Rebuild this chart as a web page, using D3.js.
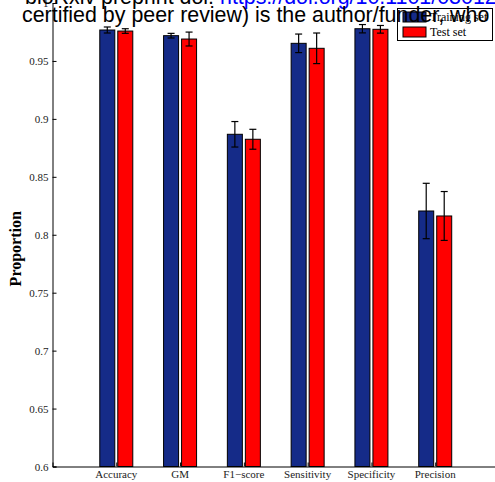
<!DOCTYPE html>
<html>
<head>
<meta charset="utf-8">
<script src="https://cdn.jsdelivr.net/npm/d3@7"></script>
<style>
  body { margin: 0; background: #fff; }
  svg { display: block; }
</style>
</head>
<body>
<div id="chart"></div>
<script>
const categories = ["Accuracy", "GM", "F1\u2212score", "Sensitivity", "Specificity", "Precision"]
const seriesNames = ["Training set", "Test set"]
const trainMean = [0.9767, 0.9718, 0.8867, 0.9652, 0.9778, 0.8205]
const trainErr = [0.0026, 0.0020, 0.0110, 0.0080, 0.0036, 0.0239]
const testMean = [0.9758, 0.9689, 0.8824, 0.9609, 0.9773, 0.8162]
const testErr = [0.0020, 0.0060, 0.0086, 0.0132, 0.0033, 0.0211]
const yTicks = [0.6, 0.65, 0.7, 0.75, 0.8, 0.85, 0.9, 0.95, 1]
const colors = ["#152b88", "#ff0000"]

const W = 495, H = 482
const mLeft = 52.5, mTop = 3, mBottom = 466.5, mRight = 499

const svg = d3.select("#chart").append("svg")
  .attr("width", W)
  .attr("height", H)

const x = d3.scaleLinear().domain([0, 7]).range([mLeft, mRight])
const y = d3.scaleLinear().domain([0.6, 1]).range([mBottom, mTop])

const series = [
  {name: seriesNames[0], mean: trainMean, err: trainErr, color: colors[0], off: -9},
  {name: seriesNames[1], mean: testMean, err: testErr, color: colors[1], off: 9}
]
const barW = 15

const serif = "'Liberation Serif', 'Times New Roman', serif"

// bars
series.forEach(function(s) {
  const g = svg.append("g")
  g.selectAll("rect")
    .data(categories)
    .enter()
    .append("rect")
    .attr("x", (d, i) => x(i + 1) + s.off - barW / 2)
    .attr("y", (d, i) => y(s.mean[i]))
    .attr("width", barW)
    .attr("height", (d, i) => y(0.6) - y(s.mean[i]))
    .attr("fill", s.color)
    .attr("stroke", "#000")
    .attr("stroke-width", 1)

  // error bars
  const eb = g.selectAll(".eb")
    .data(categories)
    .enter()
    .append("g")
    .attr("stroke", "#000")
    .attr("stroke-width", 1.2)
  eb.append("line")
    .attr("x1", (d, i) => x(i + 1) + s.off)
    .attr("x2", (d, i) => x(i + 1) + s.off)
    .attr("y1", (d, i) => y(s.mean[i] - s.err[i]))
    .attr("y2", (d, i) => y(s.mean[i] + s.err[i]))
  ;[-1, 1].forEach(function(sign) {
    eb.append("line")
      .attr("x1", (d, i) => x(i + 1) + s.off - 3.5)
      .attr("x2", (d, i) => x(i + 1) + s.off + 3.5)
      .attr("y1", (d, i) => y(s.mean[i] + sign * s.err[i]))
      .attr("y2", (d, i) => y(s.mean[i] + sign * s.err[i]))
  })
})

// axes (MATLAB style: ticks inside)
const yAxis = svg.append("g")
  .attr("transform", `translate(${mLeft},0)`)
  .call(d3.axisRight(y).tickValues(yTicks).tickSize(4).tickFormat(""))
yAxis.select(".domain").attr("stroke", "#000")

svg.append("g")
  .selectAll("text")
  .data(yTicks)
  .enter()
  .append("text")
  .attr("x", mLeft - 4)
  .attr("y", d => y(d) + 4)
  .attr("text-anchor", "end")
  .attr("font-family", serif)
  .attr("font-size", 11)
  .attr("fill", "#222")
  .text(d => d3.format("")(d))

const xAxis = svg.append("g")
  .attr("transform", `translate(0,${mBottom})`)
  .call(d3.axisTop(x).tickValues(d3.range(1, 7)).tickSize(4).tickFormat(""))
xAxis.select(".domain").attr("stroke", "#000")

svg.append("g")
  .selectAll("text")
  .data(categories)
  .enter()
  .append("text")
  .attr("x", (d, i) => x(i + 1))
  .attr("y", mBottom + 11.5)
  .attr("text-anchor", "middle")
  .attr("font-family", serif)
  .attr("font-size", 11)
  .attr("fill", "#222")
  .text(d => d)

svg.append("text")
  .attr("transform", `translate(21,${(mTop + mBottom) / 2 + 14}) rotate(-90)`)
  .attr("text-anchor", "middle")
  .attr("font-family", serif)
  .attr("font-weight", "bold")
  .attr("font-size", 16)
  .text("Proportion")

// legend
const legend = svg.append("g")
legend.append("rect")
  .attr("x", 397.5).attr("y", 8.5)
  .attr("width", 95).attr("height", 32)
  .attr("fill", "#fff").attr("stroke", "#000")
series.forEach(function(s, i) {
  legend.append("rect")
    .attr("x", 403).attr("y", 12 + i * 15)
    .attr("width", 23).attr("height", 10)
    .attr("fill", s.color).attr("stroke", "#000")
  legend.append("text")
    .attr("x", 430).attr("y", 21 + i * 15)
    .attr("font-family", serif)
    .attr("font-size", 12)
    .text(s.name)
})

// bioRxiv header overlay
const sans = "'Liberation Sans', Arial, sans-serif"
const l1 = svg.append("text")
  .attr("x", 25).attr("y", 4)
  .attr("font-family", sans)
  .attr("font-size", 21.4)
l1.append("tspan").attr("fill", "#000").text("bioRxiv preprint doi: ")
l1.append("tspan").attr("fill", "#0000ff").text("https://doi.org/10.1101/030122")
svg.append("text")
  .attr("x", 22).attr("y", 22)
  .attr("font-family", sans)
  .attr("font-size", 21.4)
  .attr("fill", "#000")
  .text("certified by peer review) is the author/funder, who")
</script>
</body>
</html>
